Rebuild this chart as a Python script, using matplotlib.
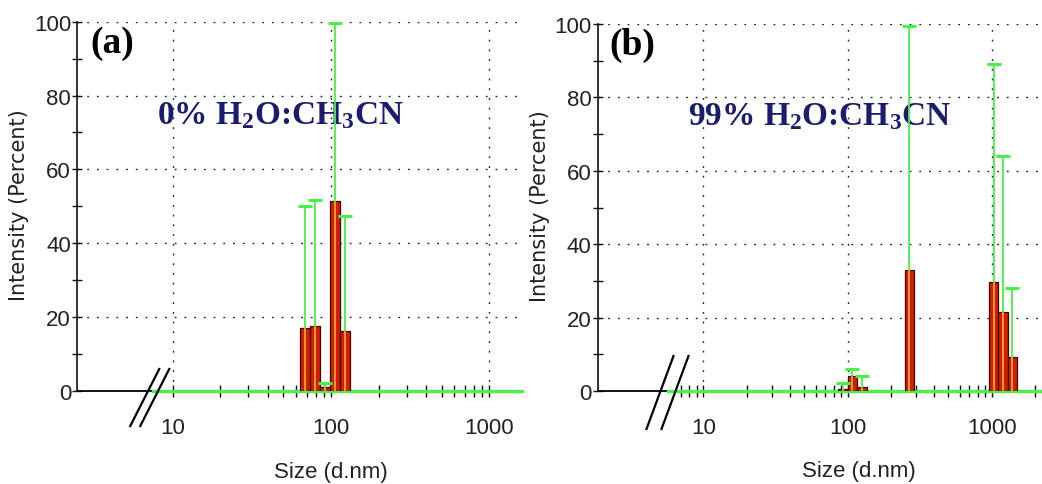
import numpy as np
import matplotlib.pyplot as plt
from matplotlib.lines import Line2D
from matplotlib.transforms import IdentityTransform
from matplotlib.ticker import FixedLocator, NullFormatter

plt.rcParams['font.family'] = ['Liberation Sans Narrow', 'DejaVu Sans Condensed', 'Liberation Sans']
plt.rcParams['mathtext.fontset'] = 'custom'
plt.rcParams['mathtext.rm'] = 'Liberation Serif:bold'
plt.rcParams['mathtext.it'] = 'Liberation Serif:bold'
plt.rcParams['mathtext.bf'] = 'Liberation Serif:bold'

# DLS size distributions (intensity %, with upper error value)
sizes_a = [68.1, 78.8, 91.3, 105.7, 122.4]
intensity_a = [17.0, 17.5, 1.0, 51.5, 16.3]
err_top_a = [50.2, 51.6, 2.3, 99.6, 47.4]

sizes_b = [93, 108, 126, 268, 1032, 1198, 1394]
intensity_b = [0.6, 4.0, 1.2, 33.0, 29.6, 21.6, 9.3]
err_top_b = [2.3, 6.0, 4.0, 99.5, 89.1, 63.9, 28.2]

yticks = [0, 20, 40, 60, 80, 100]
yminor = [10, 30, 50, 70, 90]
xticks = [10, 100, 1000]
xtick_labels = ['10', '100', '1000']
xminor_a = [20, 30, 40, 50, 60, 70, 80, 90, 200, 300, 400, 500, 600, 700, 800, 900]
xminor_b = [7, 8, 9] + xminor_a + [2000]

labels = ['(a)', '(b)']
titles = [r'0% H$_2$O:CH$_3$CN', r'99% H$_2$O:CH$_3$CN']

RED = '#d01e08'
ORANGE = '#f39a2a'
GREEN = '#48f048'
NAVY = '#1c1c6e'
TXT = '#222222'
BIN_DEX = np.log10(10000 / 0.4) / 70   # width of one size class in decades

W, H = 1042, 485
fig = plt.figure(figsize=(W / 100, H / 100), dpi=100)


def px_axes(left, top, right, bottom):
    return fig.add_axes([left / W, 1 - bottom / H, (right - left) / W, (bottom - top) / H])


ax_a = px_axes(77.3, 22.7, 522, 392)
ax_b = px_axes(597.7, 25, 1042, 392)

panels = [
    (ax_a, sizes_a, intensity_a, err_top_a, xminor_a, (2.49, 1611), 7.5,
     dict(gap=10, above=22, below=35, run=29), (0.1794, 0.7257), 0.5705),
    (ax_b, sizes_b, intensity_b, err_top_b, xminor_b, (1.85, 2234), 5.69,
     dict(gap=15, above=35, below=38, run=27), (0.203, 0.7275), 0.588),
]


def draw_break(ax, xb, gap, above, below, run):
    # two parallel slashes crossing the baseline at xb
    bx, by = ax.transData.transform((xb, 0))
    for off in (-gap / 2, gap / 2):
        x0 = bx + off - run * below / (above + below)
        x1 = bx + off + run * above / (above + below)
        fig.add_artist(Line2D([x0, x1], [by - below, by + above], color='black',
                              lw=1.6, transform=IdentityTransform()))


for i, (ax, sizes, vals, tops, xminor, xlim, xbreak, brk, tpos, xlab_x) in enumerate(panels):
    ax.set_xscale('log')
    ax.set_xlim(*xlim)
    ax.set_ylim(0, 100)

    sizes = np.array(sizes, dtype=float)
    vals = np.array(vals)
    tops = np.array(tops)
    lefts = sizes / 10 ** (BIN_DEX / 2)
    rights = sizes * 10 ** (BIN_DEX / 2)

    ax.bar(lefts, vals, width=rights - lefts, align='edge', color=RED,
           edgecolor='#3a0a00', lw=0.9, zorder=3)
    ax.vlines(sizes, 0, vals, color=ORANGE, lw=1.4, zorder=4)
    ax.vlines(sizes, vals, tops, color=GREEN, lw=1.3, zorder=4)
    ax.plot(sizes, tops, ls='none', marker='_', ms=10, mew=2.2, color=GREEN, zorder=4)

    # baseline: black up to the axis break, green after it
    ax.plot([xlim[0], xbreak], [0, 0], color='black', lw=1.3, zorder=2, clip_on=False)
    ax.plot([xbreak, xlim[1]], [0, 0], color=GREEN, lw=2.4, zorder=2, clip_on=False)

    for side in ['top', 'right', 'bottom']:
        ax.spines[side].set_visible(False)
    ax.spines['left'].set_linewidth(1.2)
    ax.spines['left'].set_color('#111111')

    ax.yaxis.set_major_locator(FixedLocator(yticks))
    ax.yaxis.set_minor_locator(FixedLocator(yminor))
    ax.xaxis.set_major_locator(FixedLocator(xticks))
    ax.set_xticklabels(xtick_labels)
    ax.xaxis.set_minor_locator(FixedLocator(xminor))
    ax.xaxis.set_minor_formatter(NullFormatter())

    ax.tick_params(axis='y', which='both', direction='inout', length=7, width=1,
                   pad=1, labelsize=16, labelcolor=TXT, color='#111111')
    ax.tick_params(axis='x', which='both', direction='inout', length=8, width=1,
                   pad=15, labelsize=16, labelcolor=TXT, color='#111111')

    ax.grid(True, which='major', color='#222222', lw=1.0, ls=(0, (1.3, 5.7)))
    ax.set_axisbelow(True)

    ax.text(-0.13, 0.507, 'Intensity (Percent)', transform=ax.transAxes, rotation=90,
            ha='center', va='center', fontsize=15, family='DejaVu Sans', color=TXT)
    ax.text(xlab_x, -0.217, 'Size (d.nm)', transform=ax.transAxes,
            ha='center', va='center', fontsize=16, color=TXT)

    ax.text(0.078, 0.944, labels[i], transform=ax.transAxes, ha='center', va='center',
            fontsize=27, family='Liberation Serif', weight='bold', color='black')
    ax.text(tpos[0], tpos[1], titles[i], transform=ax.transAxes, ha='left',
            va='baseline', fontsize=24, family='Liberation Serif', weight='bold', color=NAVY)

    draw_break(ax, xbreak, **brk)

fig.savefig('out.png', dpi=100)
